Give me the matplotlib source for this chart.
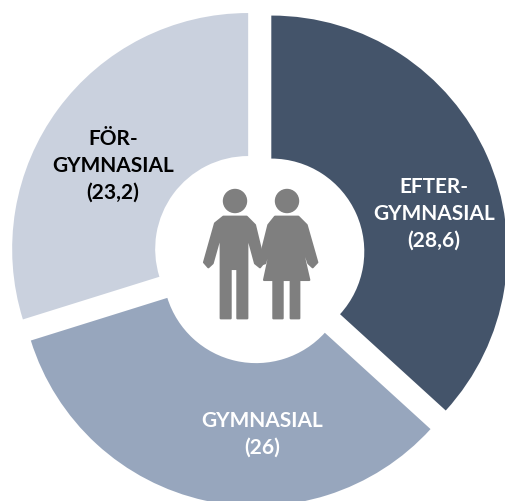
import matplotlib
matplotlib.use("Agg")
import matplotlib.pyplot as plt
from matplotlib.patches import Circle, Polygon

labels = ["EFTER-\nGYMNASIAL\n(28,6)", "GYMNASIAL\n(26)", "FÖR-\nGYMNASIAL\n(23,2)"]
values = [28.6, 26, 23.2]
colors = ["#44546a", "#97a6bd", "#cad1de"]
text_colors = ["white", "white", "black"]

W, H = 506, 501
plt.rcParams["font.family"] = ["Lato", "DejaVu Sans"]
fig = plt.figure(figsize=(W / 100, H / 100), dpi=100)
ax = fig.add_axes([0, 0, 1, 1])
ax.set_xlim(0, W)
ax.set_ylim(H, 0)
ax.axis("off")

# the slices are pulled out from the centre, that is where the gaps come from
R = 236 * 1.1
cx, cy = 259, 257
pie_ax = fig.add_axes([(cx - R) / W, 1 - (cy + R) / H, 2 * R / W, 2 * R / H])
wedges, _ = pie_ax.pie(values, colors=colors, startangle=90, counterclock=False, radius=1,
                       explode=[0.057, 0.057, 0.057], wedgeprops=dict(width=0.606))
pie_ax.set_xlim(-1.1, 1.1)
pie_ax.set_ylim(-1.1, 1.1)

# text and icon on top
ax.set_zorder(5)
ax.patch.set_alpha(0)
txt = dict(ha="center", va="center", fontsize=15, fontweight="bold", linespacing=1.42)
ax.text(434, 214, labels[0], color=text_colors[0], **txt)
ax.text(262, 434, labels[1], color=text_colors[1], **txt)
ax.text(113, 166, labels[2], color=text_colors[2], **txt)

gray = "#7f7f7f"


def shape(points):
    xy = [(190 + x / 3, 175 + y / 3) for x, y in points]
    ax.add_patch(Polygon(xy, closed=True, facecolor=gray, edgecolor=gray, linewidth=1.5, joinstyle="round"))


man = [(100, 125), (170, 125), (195, 150), (222, 262), (210, 277), (195, 265), (172, 180), (172, 430),
       (142, 430), (142, 282), (122, 282), (122, 430), (92, 430), (92, 180), (68, 265), (55, 277),
       (42, 262), (75, 145)]
woman = [(255, 125), (325, 125), (350, 150), (382, 262), (368, 277), (355, 265), (328, 185), (358, 315),
         (328, 315), (328, 430), (302, 430), (302, 315), (278, 315), (278, 430), (250, 430), (250, 315),
         (222, 315), (250, 185), (225, 265), (205, 270), (235, 150)]
shape(man)
shape(woman)
ax.add_patch(Circle((235, 201), 11.5, color=gray))
ax.add_patch(Circle((287, 201), 11.5, color=gray))

fig.savefig("out.png", dpi=100)
